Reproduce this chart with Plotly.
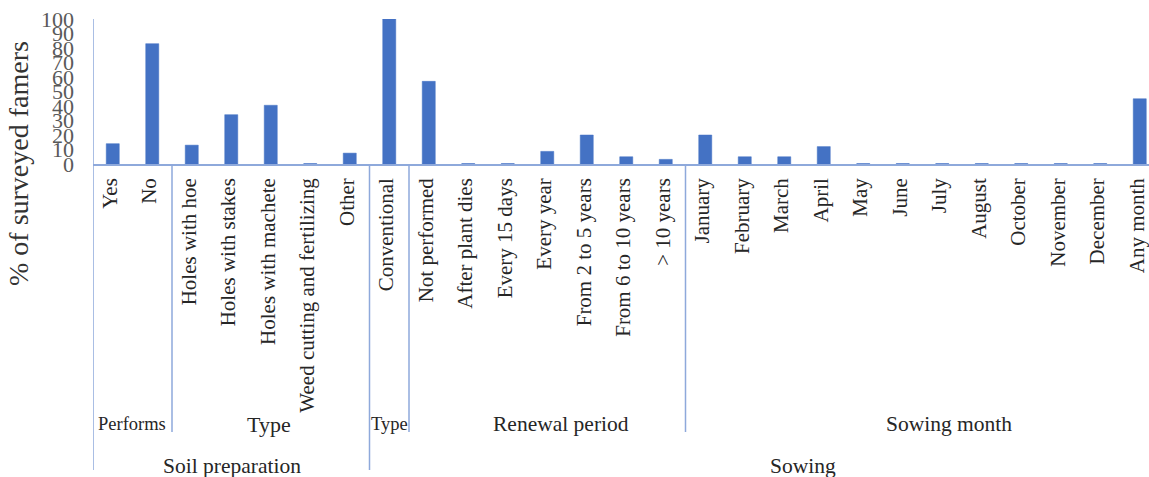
import plotly.graph_objects as go

categories = ["Yes", "No",
              "Holes with hoe", "Holes with stakes", "Holes with machete",
              "Weed cutting and fertilizing", "Other",
              "Conventional",
              "Not performed", "After plant dies", "Every 15 days", "Every year",
              "From 2 to 5 years", "From 6 to 10 years", "> 10 years",
              "January", "February", "March", "April", "May", "June", "July",
              "August", "October", "November", "December", "Any month"]
values = [14, 83,
          13, 34, 40.5, 0.3, 7.5,
          100,
          57, 0.3, 0.3, 8.7, 20, 5, 3.2,
          20, 5, 5, 12, 0.3, 0.3, 0.3, 0.3, 0.3, 0.3, 0.3, 45]

# level-2 groups: label, pixel centre, font size
subgroups = [("Performs", 132, 18.5), ("Type", 269, 22), ("Type", 389, 18.5),
             ("Renewal period", 561, 21.5), ("Sowing month", 949, 21.5)]
# level-1 groups
groups = [("Soil preparation", 232), ("Sowing", 803)]

line_col = "#8EA9DB"
W, H = 1149, 477
L, T, B = 93, 19, 313
ph = H - T - B
cat_w = 39.5
xmax = -0.5 + (W - L) / cat_w


def py(pix):
    return (H - B - pix) / ph


def px_(pix):
    return (pix - L) / (W - L)


fig = go.Figure(go.Bar(x=categories, y=values, marker_color="#4472C4",
                       marker_line=dict(color="#4472C4", width=0.5), width=0.33))

shapes = []
# main axis line
shapes.append(dict(type="line", xref="x", yref="paper", x0=-0.5, x1=-0.5,
                   y0=py(470), y1=1, line=dict(color=line_col, width=1.5)))
for x0, bottom in [(1.5, 432), (6.5, 470), (7.5, 432), (14.5, 432)]:
    shapes.append(dict(type="line", xref="x", yref="paper", x0=x0, x1=x0,
                       y0=py(bottom), y1=0, line=dict(color=line_col, width=1.5)))

annotations = []
for lab, cx, fs in subgroups:
    annotations.append(dict(x=px_(cx), xref="paper", y=py(424), yref="paper",
                            xanchor="center", yanchor="middle",
                            text=lab, showarrow=False,
                            font=dict(size=fs, color="#262626")))
for lab, cx in groups:
    annotations.append(dict(x=px_(cx), xref="paper", y=py(466), yref="paper",
                            xanchor="center", yanchor="middle",
                            text=lab, showarrow=False,
                            font=dict(size=21.5, color="#262626")))
annotations.append(dict(x=px_(18), xref="paper", y=py(164), yref="paper",
                        xanchor="center", yanchor="middle",
                        text="% of surveyed famers", textangle=-90, showarrow=False,
                        font=dict(size=28, color="#333333")))

fig.update_layout(
    width=W, height=H,
    margin=dict(l=L, r=0, t=T, b=B, autoexpand=False),
    plot_bgcolor="white", paper_bgcolor="white",
    font=dict(family="Liberation Serif"),
    showlegend=False,
    shapes=shapes, annotations=annotations,
    xaxis=dict(type="category", range=[-0.5, xmax], tickangle=-90,
               automargin=False,
               showgrid=False, showline=True, linecolor=line_col, linewidth=1.5,
               ticks="", ticklabelstandoff=4, ticklabelshift=-3,
               tickfont=dict(size=21, color="#262626")),
    yaxis=dict(range=[0, 100], tickvals=list(range(0, 101, 10)), showgrid=False,
               automargin=False,
               showline=False, zeroline=False, ticks="", ticklabelstandoff=18,
               tickfont=dict(size=22, color="#595959")),
)

fig.write_html("out.html", config={"displayModeBar": False},
               post_script="document.body.style.margin='0px';")
